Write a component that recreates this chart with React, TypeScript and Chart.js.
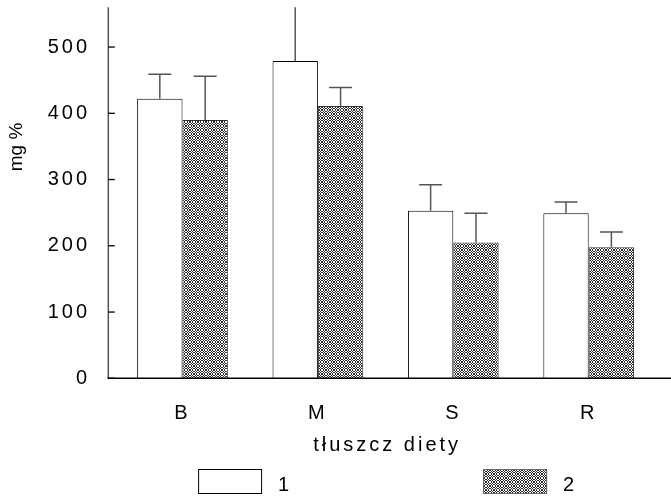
import React, { useEffect, useRef } from 'react';
import { Chart, registerables } from 'chart.js';

Chart.register(...registerables);

const categories = ['B', 'M', 'S', 'R'];
const series1 = [422, 479, 253, 249];
const series2 = [390, 411, 205, 198];
const sd1 = [37, 100, 39, 17];
const sd2 = [66, 28, 44, 23];
const seriesLabels = ['1', '2'];
const yMin = 0;
const yMax = 560;
const yStep = 100;
const xTitle = 'tłuszcz diety';
const yTitle = 'mg %';

const FONT = '"Liberation Sans", Arial, Helvetica, sans-serif';
const SPACING = 3;

function makePattern(): CanvasPattern | string {
  const c = document.createElement('canvas');
  c.width = 8;
  c.height = 8;
  const g = c.getContext('2d');
  if (!g) return '#888';
  g.fillStyle = '#ffffff';
  g.fillRect(0, 0, 8, 8);
  const rows = [
    '.##.#..#',
    '#..#.##.',
    '#..#.##.',
    '.##.#..#',
    '#..#.##.',
    '.##.#..#',
    '.##.#..#',
    '#..#.##.',
  ];
  g.fillStyle = '#2a2a2a';
  rows.forEach((r, y) => {
    for (let x = 0; x < 8; x++) if (r[x] === '#') g.fillRect(x, y, 1, 1);
  });
  const p = g.createPattern(c, 'repeat');
  return p || '#888';
}

export default function App() {
  const ref = useRef<HTMLCanvasElement>(null);

  useEffect(() => {
    const canvas = ref.current!;
    const pattern = makePattern();
    const sds = [sd1, sd2];

    const stylePlugin = {
      id: 'stylePlugin',
      beforeDraw(chart: any) {
        chart.ctx.letterSpacing = `${SPACING}px`;
      },
      afterDatasetsDraw(chart: any) {
        const ctx = chart.ctx;
        const ys = chart.scales.y;
        const area = chart.chartArea;
        // error bars
        ctx.save();
        ctx.beginPath();
        ctx.rect(0, area.top, chart.width, area.bottom - area.top);
        ctx.clip();
        ctx.strokeStyle = '#555555';
        ctx.lineWidth = 1.5;
        chart.data.datasets.forEach((ds: any, d: number) => {
          const meta = chart.getDatasetMeta(d);
          meta.data.forEach((el: any, i: number) => {
            const v = ds.data[i] + sds[d][i];
            const yt = ys.getPixelForValue(v);
            ctx.beginPath();
            ctx.moveTo(el.x, el.y);
            ctx.lineTo(el.x, yt);
            ctx.moveTo(el.x - 11.5, yt);
            ctx.lineTo(el.x + 11.5, yt);
            ctx.stroke();
          });
        });
        ctx.restore();

        // axes
        const x0 = area.left - 6.5;
        ctx.save();
        ctx.strokeStyle = '#555555';
        ctx.lineWidth = 1.5;
        ctx.beginPath();
        ctx.moveTo(x0, area.top);
        ctx.lineTo(x0, area.bottom);
        ctx.stroke();
        ctx.strokeStyle = '#000000';
        ctx.lineWidth = 1.3;
        ys.ticks.forEach((t: any) => {
          const y = ys.getPixelForValue(t.value);
          ctx.beginPath();
          ctx.moveTo(x0, y);
          ctx.lineTo(x0 + 6.5, y);
          ctx.stroke();
        });
        ctx.lineWidth = 1.5;
        ctx.beginPath();
        ctx.moveTo(x0 - 0.75, area.bottom);
        ctx.lineTo(chart.width, area.bottom);
        ctx.stroke();
        ctx.restore();
      },
      afterDraw(chart: any) {
        const ctx = chart.ctx;
        const area = chart.chartArea;
        const cx = (area.left + area.right) / 2;
        ctx.save();
        ctx.fillStyle = '#000000';
        ctx.font = `20px ${FONT}`;
        ctx.textBaseline = 'alphabetic';
        // x title
        ctx.letterSpacing = `${SPACING}px`;
        ctx.textAlign = 'center';
        ctx.fillText(xTitle, cx + SPACING / 2, 451);
        // legend
        const boxW = 64;
        const boxH = 25;
        const gap = 285;
        const startX = cx - 187.5;
        chart.data.datasets.forEach((ds: any, i: number) => {
          const bx = startX + i * gap;
          const by = 469;
          ctx.fillStyle = ds.backgroundColor;
          ctx.fillRect(bx, by, boxW, boxH);
          ctx.strokeStyle = i === 0 ? '#000000' : '#666666';
          ctx.lineWidth = 1;
          ctx.strokeRect(bx + 0.5, by + 0.5, boxW - 1, boxH - 1);
          ctx.fillStyle = '#000000';
          ctx.textAlign = 'left';
          ctx.fillText(ds.label, bx + boxW + 16, 491);
        });
        // y title
        ctx.letterSpacing = '0px';
        ctx.font = `19px ${FONT}`;
        ctx.translate(22, 147);
        ctx.rotate(-Math.PI / 2);
        ctx.textAlign = 'center';
        ctx.fillText(yTitle, 0, 0);
        ctx.restore();
        ctx.letterSpacing = `${SPACING}px`;
      },
    };

    const chart = new Chart(canvas, {
      type: 'bar',
      data: {
        labels: categories,
        datasets: [
          {
            label: seriesLabels[0],
            data: series1,
            backgroundColor: '#ffffff',
            borderColor: '#000000',
            borderWidth: 1,
            barPercentage: 1,
            categoryPercentage: 0.67,
          },
          {
            label: seriesLabels[1],
            data: series2,
            backgroundColor: pattern as any,
            borderColor: '#333333',
            borderWidth: 1,
            barPercentage: 1,
            categoryPercentage: 0.67,
          },
        ],
      },
      options: {
        responsive: false,
        devicePixelRatio: 1,
        animation: false,
        layout: { padding: { left: 0, right: 14.6, top: 7.3, bottom: 0 } },
        plugins: {
          legend: { display: false },
          tooltip: { enabled: false },
          title: { display: false },
        },
        scales: {
          x: {
            grid: { display: false, drawTicks: false },
            border: { display: false },
            ticks: {
              color: '#000000',
              font: { family: FONT, size: 20 },
              padding: 23,
            },
            afterFit(scale: any) {
              scale.height = 498 - 378.3;
              scale.paddingLeft = 0;
              scale.paddingRight = 0;
            },
          },
          y: {
            min: yMin,
            max: yMax,
            grid: { display: false, drawTicks: false },
            border: { display: false },
            ticks: {
              stepSize: yStep,
              color: '#000000',
              font: { family: FONT, size: 20 },
              padding: 24.8,
            },
            afterBuildTicks(scale: any) {
              scale.ticks = scale.ticks.filter((t: any) => t.value % yStep === 0);
            },
            afterFit(scale: any) {
              scale.width = 114.8;
              scale.paddingTop = 0;
              scale.paddingBottom = 0;
            },
          },
        },
      },
      plugins: [stylePlugin],
    });

    return () => chart.destroy();
  }, []);

  return (
    <div style={{ position: 'absolute', left: 0, top: 0, width: 671, height: 498, background: '#fff' }}>
      <canvas ref={ref} width={671} height={498} style={{ display: 'block' }} />
    </div>
  );
}
